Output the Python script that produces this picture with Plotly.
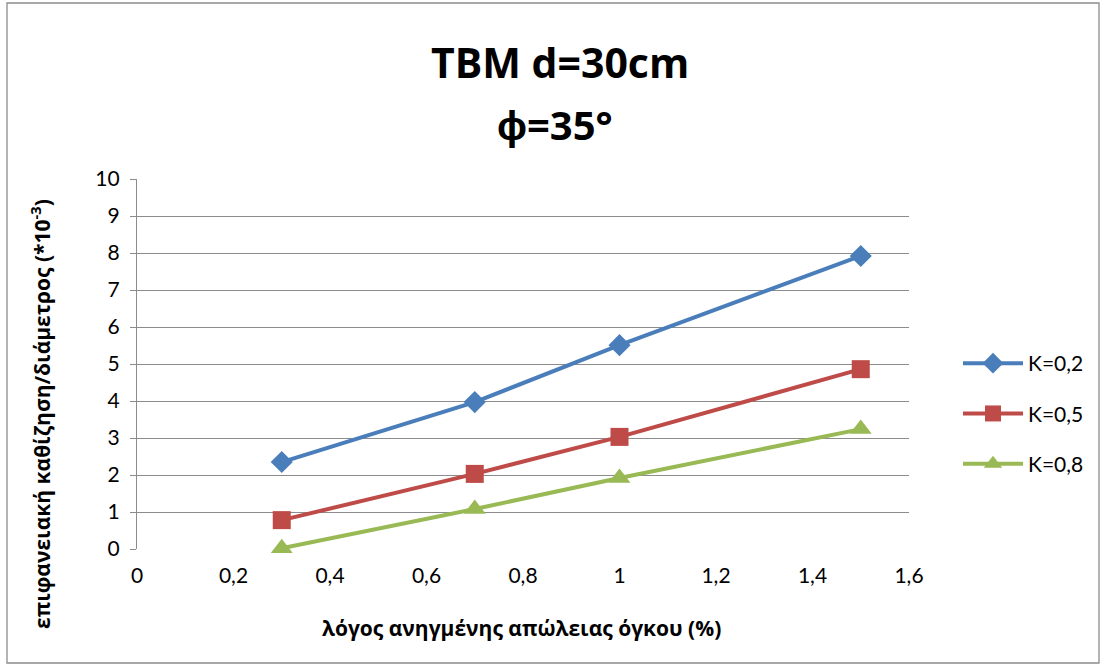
import plotly.graph_objects as go

x_vals = [0.3, 0.7, 1.0, 1.5]
k02 = [2.35, 3.97, 5.51, 7.92]
k05 = [0.78, 2.03, 3.03, 4.86]
k08 = [0.02, 1.08, 1.92, 3.24]
names = ["K=0,2", "K=0,5", "K=0,8"]
x_ticks = [0, 0.2, 0.4, 0.6, 0.8, 1.0, 1.2, 1.4, 1.6]
x_ticktext = ["0", "0,2", "0,4", "0,6", "0,8", "1", "1,2", "1,4", "1,6"]
colors = ["#4A7EBB", "#BE4B48", "#98B954"]
symbols = ["diamond", "square", "triangle-up"]
msizes = [17, 18, 19]
series = [k02, k05, k08]

W, H = 1105, 668
L, R, T, B = 137, 909, 179, 549
pw, ph = R - L, B - T


def px(xp):
    return (xp - L) / pw


def py(yp):
    return (B - yp) / ph


fig = go.Figure()
for i, (nm, ys) in enumerate(zip(names, series)):
    fig.add_trace(go.Scatter(
        x=x_vals, y=ys, name=nm, mode="lines+markers",
        legendgroup=nm, cliponaxis=False,
        line=dict(color=colors[i], width=4),
        marker=dict(symbol=symbols[i], size=msizes[i], color=colors[i]),
    ))

bold = dict(family="Open Sans, sans-serif", color="black", weight="bold")

fig.update_layout(
    width=W, height=H,
    margin=dict(l=L, r=W - R, t=T, b=H - B),
    paper_bgcolor="white", plot_bgcolor="white",
    font=dict(family="Lato, Open Sans, sans-serif", color="black"),
    xaxis=dict(range=[0, 1.6], tickvals=x_ticks, ticktext=x_ticktext,
               showgrid=False, zeroline=False, showline=False,
               ticks="", tickfont=dict(size=21), ticklabelstandoff=12),
    yaxis=dict(range=[0, 10], dtick=1, showgrid=True, gridcolor="#8C8C8C",
               gridwidth=1.3, zeroline=False, showline=True, linecolor="#8C8C8C",
               linewidth=1.3, ticks="outside", ticklen=6, tickcolor="#8C8C8C",
               tickfont=dict(size=21), ticklabelstandoff=6),
    legend=dict(x=px(958), y=py(343), xanchor="left", yanchor="top",
                font=dict(size=21), tracegroupgap=20, itemwidth=60,
                bgcolor="rgba(0,0,0,0)"),
    annotations=[
        dict(text="TBM d=30cm", xref="paper", yref="paper", x=px(560), y=py(62),
             xanchor="center", yanchor="middle", showarrow=False,
             font=dict(size=41, **bold)),
        dict(text="ϕ=35°", xref="paper", yref="paper", x=px(555), y=py(125),
             xanchor="center", yanchor="middle", showarrow=False,
             font=dict(size=40, **bold)),
        dict(text="λόγος ανηγμένης απώλειας όγκου (%)", xref="paper", yref="paper",
             x=px(521), y=py(628), xanchor="center", yanchor="middle",
             showarrow=False, font=dict(size=21, **bold)),
        dict(text="επιφανειακή καθίζηση/διάμετρος (*10<sup>-3</sup>)",
             xref="paper", yref="paper", x=px(40), y=py(414), textangle=-90,
             xanchor="center", yanchor="middle", showarrow=False,
             font=dict(size=21, **bold)),
    ],
    shapes=[dict(type="rect", xref="paper", yref="paper",
                 x0=px(7), x1=px(1099), y0=py(663), y1=py(3),
                 line=dict(color="#8C8C8C", width=1.3), layer="below")],
)

fig.write_html("out.html")
